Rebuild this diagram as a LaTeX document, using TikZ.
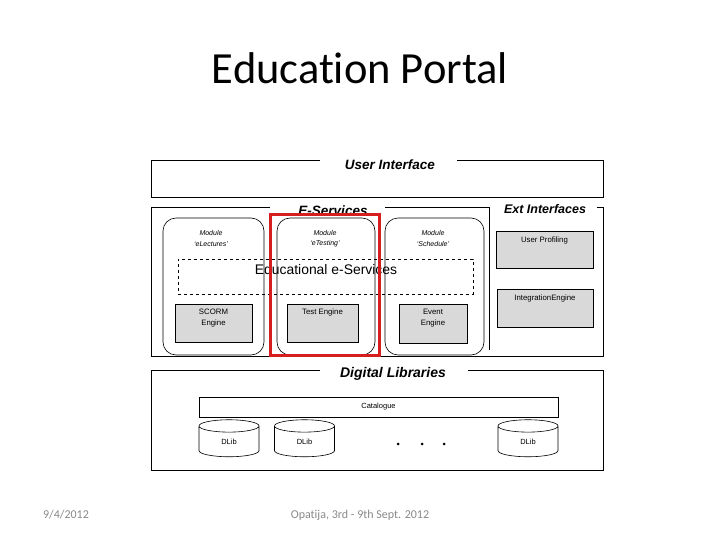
\documentclass[tikz,border=0pt]{standalone}
\usepackage{fontspec}
\setmainfont{Liberation Sans}
\newfontfamily\calibri[Ligatures=NoCommon]{Carlito}
\usetikzlibrary{shapes.geometric}
\definecolor{hlred}{RGB}{214,30,30}
\definecolor{footgray}{RGB}{137,137,137}
\begin{document}
\begin{tikzpicture}[x=1pt,y=-1pt,
  frame/.style={line width=0.9pt},
  grouplabel/.style={font=\fontsize{13.5}{15}\selectfont\bfseries\itshape, inner sep=0pt},
  module/.style={draw, rounded corners=13pt, line width=0.6pt, inner sep=0pt},
  modtext/.style={font=\fontsize{7}{10.5}\selectfont\itshape, align=center, inner sep=0pt},
  engine/.style={draw, fill=black!15, line width=0.6pt, inner sep=0pt},
  engtext/.style={font=\fontsize{7.8}{11}\selectfont, align=center, inner sep=0pt, anchor=north},
  dlib/.style={draw, cylinder, shape border rotate=90, aspect=0.8, line width=0.6pt,
               minimum width=60pt, minimum height=37pt, inner sep=0pt, font=\fontsize{7.5}{8}\selectfont},
  foot/.style={font=\calibri\fontsize{12}{14}\selectfont, text=footgray, inner sep=0pt}
]
\useasboundingbox (0,0) rectangle (720,540);

% Title
\node[font=\calibri\fontsize{44.5}{50}\selectfont, inner sep=0pt] (title) at (360,68) {Education Portal};

% User Interface frame
\draw[frame] (320,160) -- (151,160) -- (151,197) -- (603,197) -- (603,160) -- (457,160);
\node[grouplabel] (uilabel) at (390,165) {User Interface};

% E-Services frame
\draw[frame] (270,207) -- (151,207) -- (151,356) -- (603,356) -- (603,207) -- (597,207);
\draw[frame] (385,207) -- (489,207);
\draw[frame] (489,207) -- (489,350);
\node[grouplabel] (eslabel) at (333,211) {E-Services};
\node[grouplabel, font=\fontsize{12.5}{14}\selectfont\bfseries\itshape] (extlabel) at (545,209) {Ext Interfaces};

% Modules
\node[module, minimum width=101pt, minimum height=137pt] (mlect) at (213.5,286.5) {};
\node[module, minimum width=98pt, minimum height=137pt] (mtest) at (326,286.5) {};
\node[module, minimum width=99pt, minimum height=137pt] (msched) at (434.5,286.5) {};
\node[modtext] (tlect) at (211,238.5) {Module\\‘eLectures’};
\node[modtext] (ttest) at (325,238.5) {Module\\‘eTesting’};
\node[modtext] (tsched) at (433,238.5) {Module\\‘Schedule’};

% Educational e-Services dashed box
\node[draw, dashed, line width=0.6pt, minimum width=295pt, minimum height=35pt, inner sep=0pt] (edu) at (325.5,276.5) {};
\node[font=\fontsize{13.9}{16}\selectfont, inner sep=0pt] (edutext) at (326,270) {Educational e-Services};

% Engines
\node[engine, minimum width=77pt, minimum height=38pt] (scorm) at (213.5,323) {};
\node[engtext] (scormt) at (213.5,308.5) {SCORM\\Engine};
\node[engine, minimum width=71pt, minimum height=38pt] (testeng) at (322.5,323) {};
\node[engtext] (testt) at (322.5,308.5) {Test Engine};
\node[engine, minimum width=68pt, minimum height=39pt] (event) at (433,323.5) {};
\node[engtext] (eventt) at (433,308.5) {Event\\Engine};
\node[engine, minimum width=97pt, minimum height=37pt] (uprof) at (544.5,249.5) {};
\node[engtext] (uproft) at (544.5,236.5) {User Profiling};
\node[engine, minimum width=96pt, minimum height=38pt] (integ) at (545,308) {};
\node[engtext] (integt) at (545,294.5) {IntegrationEngine};

% Highlight
\draw[hlred, line width=3pt] (270,215) rectangle (379,355);

% Digital Libraries frame
\draw[frame] (320,370) -- (151,370) -- (151,470) -- (603,470) -- (603,370) -- (468,370);
\node[grouplabel, font=\fontsize{14}{16}\selectfont\bfseries\itshape] (dllabel) at (393,374) {Digital Libraries};
\node[draw, line width=0.6pt, minimum width=359pt, minimum height=20pt, inner sep=0pt,
      font=\fontsize{7.5}{8}\selectfont] (cat) at (378.5,407) {Catalogue};
\node[dlib] (d1) at (229,441.5) {DLib};
\node[dlib] (d2) at (304.5,441.5) {DLib};
\node[dlib] (d3) at (528,441.5) {DLib};
\fill (398,444) circle (1.5pt) (422,444) circle (1.5pt) (444,444) circle (1.5pt);

% Footer
\node[foot] (date) at (66,515) {9/4/2012};
\node[foot] (place) at (360,515) {Opatija, 3rd - 9th Sept. 2012};
\end{tikzpicture}
\end{document}
